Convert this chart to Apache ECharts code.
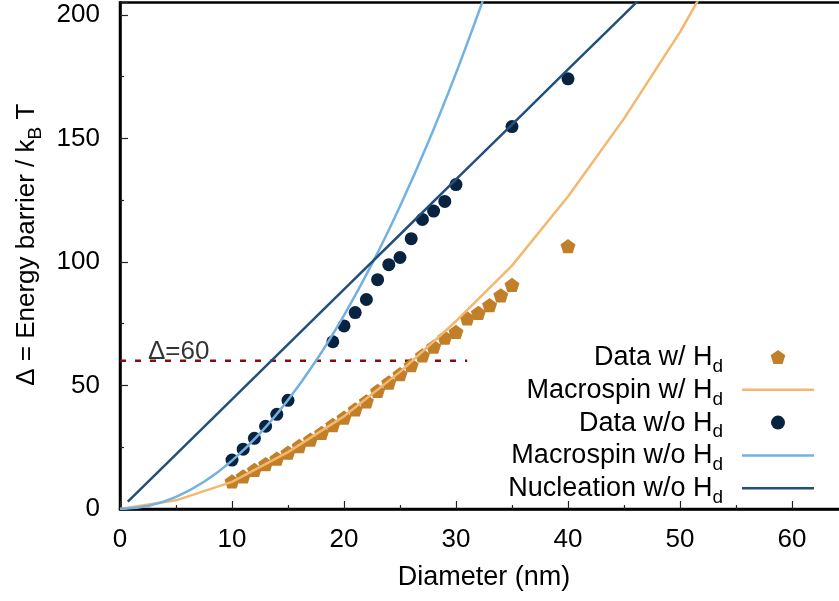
<!DOCTYPE html>
<html>
<head>
<meta charset="utf-8">
<script src="https://cdn.jsdelivr.net/npm/echarts@6/dist/echarts.min.js"></script>
<style>
html,body{margin:0;padding:0;background:#fff;}
#chart{width:839px;height:601px;}
</style>
</head>
<body>
<div id="chart"></div>
<script>
// ---- Data ----
const dataWithHdX = [10,11,12,13,14,15,16,17,18,19,20,21,22,23,24,25,26,27,28,29,30,31,32,33,34,35,40];
const dataWithHdY = [11.2,13.2,15.8,18.2,20.4,22.8,25.5,28.1,30.8,34.0,37.0,40.3,43.6,47.8,51.2,54.6,58.2,62.2,65.7,69.4,71.7,77.2,79.4,82.5,86.5,90.7,106.4];

const macroWithHdX = [0,5,10,15,20,25,30,35,40,45,50,55];
const macroWithHdY = [0,3.5,11,23,37.5,55.5,76,98.5,126.5,158,193,233];

const dataWithoutHdX = [10,11,12,13,14,15,19,20,21,22,23,24,25,26,27,28,29,30,35,40];
const dataWithoutHdY = [19.8,24.2,28.6,33.5,38.3,44.0,67.7,74.1,79.5,84.8,92.8,98.9,101.8,109.4,117.2,120.6,124.5,131.3,154.8,174.1];

const macroWithoutHdX = [0,2.5,5,7.5,10,12.5,15,17.5,20,22.5,25,27.5,30,32.5];
const macroWithoutHdY = [0,1.2,4.9,11,19.6,30.6,44.1,60,78.4,99.2,122.5,148.2,176.4,207];

const nucleationX = [0.7,5,10,15,20,25,30,35,40,45,50];
const nucleationY = [3,22.1,44.4,66.6,88.9,111.1,133.4,155.6,177.9,200.1,222.4];

const thresholdX = [0,31];
const thresholdY = [60,60];
const thresholdLabel = 'Δ=60';
const thresholdLabelX = 2.5;

const xTicks = {min:0, max:65, interval:10};
const yTicks = {min:0, max:205, interval:50};

const legendNames = ['Data w/ H_d','Macrospin w/ H_d','Data w/o H_d','Macrospin w/o H_d','Nucleation w/o H_d'];
const lineLegendNames = ['Macrospin w/ H_d','Macrospin w/o H_d','Nucleation w/o H_d'];

// ---- helpers ----
const zip = (xs, ys) => xs.map((x, i) => [x, ys[i]]);
const FONT = "'Liberation Sans', Arial, sans-serif";
const pentagon = 'path://M0,-1 L0.951,-0.309 L0.588,0.809 L-0.588,0.809 L-0.951,-0.309 Z';
const barIcon = 'path://M0,0 L72,0 L72,2.5 L0,2.5 Z';

const chart = echarts.init(document.getElementById('chart'), null, {renderer:'canvas'});

const option = {
  animation: false,
  backgroundColor: '#fff',
  textStyle: {fontFamily: FONT},
  grid: {
    left: 120, top: 2.5, width: 728, bottom: 92,
    containLabel: false, outerBoundsMode: 'none',
    show: true, borderColor: '#000', borderWidth: 2.5, backgroundColor: 'transparent'
  },
  xAxis: {
    type: 'value', min: xTicks.min, max: xTicks.max, interval: xTicks.interval,
    name: 'Diameter (nm)', nameLocation: 'middle', nameGap: 55,
    nameTextStyle: {fontSize: 27, color: '#000', fontFamily: FONT, lineHeight: 27},
    axisLine: {show: true, onZero: false, lineStyle: {color: '#000', width: 2.5}},
    axisTick: {show: true, inside: true, length: 8, lineStyle: {color: '#222', width: 1.2}},
    minorTick: {show: true, splitNumber: 2, length: 4, lineStyle: {color: '#222', width: 1.2}},
    splitLine: {show: false},
    axisLabel: {fontSize: 26, color: '#000', fontFamily: FONT, margin: 18, lineHeight: 26, showMaxLabel: false}
  },
  yAxis: {
    type: 'value', min: yTicks.min, max: yTicks.max, interval: yTicks.interval,
    name: 'Δ = Energy barrier / k{s|B} T', nameLocation: 'middle', nameGap: 78, nameRotate: 90,
    nameTextStyle: {
      fontSize: 26, color: '#000', fontFamily: FONT,
      padding: [0, 0, 0, 22],
      rich: {
        s: {fontSize: 19, lineHeight: 19, verticalAlign: 'top', padding: [13,0,0,0], color: '#000', fontFamily: FONT}
      }
    },
    axisLine: {show: true, onZero: false, lineStyle: {color: '#000', width: 2.5}},
    axisTick: {show: true, inside: true, length: 8, lineStyle: {color: '#222', width: 1.2}},
    minorTick: {show: true, splitNumber: 2, length: 4, lineStyle: {color: '#222', width: 1.2}},
    splitLine: {show: false},
    axisLabel: {fontSize: 26, color: '#000', fontFamily: FONT, margin: 20, showMaxLabel: false}
  },
  legend: {
    orient: 'vertical', align: 'right', right: 25, top: 344, padding: 0,
    itemWidth: 72, itemHeight: 14, itemGap: 0.8,
    data: legendNames.map(n => lineLegendNames.indexOf(n) >= 0 ? {name: n, icon: barIcon} : {name: n}),
    formatter: function (name) {
      const base = name.replace('_d', '');
      return '{n|' + base + '}{s|d}';
    },
    textStyle: {
      fontSize: 27, color: '#000', fontFamily: FONT, padding: [0, 14, 0, 0],
      rich: {
        n: {fontSize: 27, lineHeight: 26, verticalAlign: 'top', color: '#000', fontFamily: FONT},
        s: {fontSize: 19, lineHeight: 19, verticalAlign: 'top', padding: [13,0,0,0], color: '#000', fontFamily: FONT}
      }
    }
  },
  series: [
    {
      name: 'Data w/ H_d', type: 'scatter', data: zip(dataWithHdX, dataWithHdY),
      symbol: pentagon, symbolSize: 15, symbolKeepAspect: true,
      itemStyle: {color: '#c17f2a', opacity: 1}
    },
    {
      name: 'Macrospin w/ H_d', type: 'line', data: zip(macroWithHdX, macroWithHdY),
      symbol: 'none', smooth: false,
      lineStyle: {color: '#f3b86d', width: 2.5}, itemStyle: {color: '#f3b86d'}
    },
    {
      name: 'Data w/o H_d', type: 'scatter', data: zip(dataWithoutHdX, dataWithoutHdY),
      symbol: 'circle', symbolSize: 13,
      itemStyle: {color: '#08233f', opacity: 1}
    },
    {
      name: 'Macrospin w/o H_d', type: 'line', data: zip(macroWithoutHdX, macroWithoutHdY),
      symbol: 'none', smooth: 0.3,
      lineStyle: {color: '#72b1e2', width: 2.5}, itemStyle: {color: '#72b1e2'}
    },
    {
      name: 'Nucleation w/o H_d', type: 'line', data: zip(nucleationX, nucleationY),
      symbol: 'none',
      lineStyle: {color: '#21507e', width: 2.5}, itemStyle: {color: '#21507e'}
    },
    {
      name: 'threshold', type: 'line', data: zip(thresholdX, thresholdY),
      symbol: 'none', z: 1,
      lineStyle: {color: '#8b0a0a', width: 2.5, type: [6, 9]}
    },
    {
      name: 'thresholdLabel', type: 'scatter', data: [[thresholdLabelX, thresholdY[0]]],
      symbolSize: 1, itemStyle: {color: 'rgba(0,0,0,0)'}, silent: true,
      label: {
        show: true, formatter: thresholdLabel, position: 'top', align: 'left', distance: 0,
        offset: [0, 5], fontSize: 26, color: '#000', fontFamily: FONT
      }
    }
  ]
};
chart.setOption(option);
</script>
</body>
</html>
